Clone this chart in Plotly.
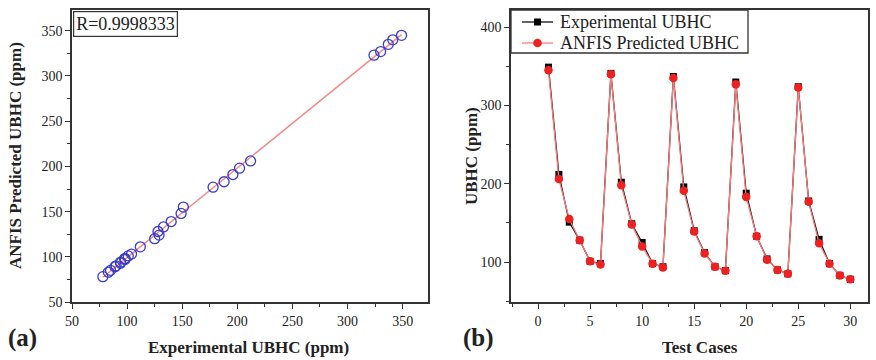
import numpy as np
import plotly.graph_objects as go

# Test case index and measured / predicted unburnt hydrocarbon (ppm)
cases = list(range(1, 31))
experimental = [349, 212, 151, 128, 101, 98, 341, 202, 149, 125, 98, 94,
                337, 196, 140, 112, 94, 89, 330, 188, 133, 104, 90, 85,
                324, 178, 129, 98, 83, 78]
predicted = [345, 206, 155, 128, 101, 97, 340, 198, 148, 120, 98, 93,
             335, 191, 139, 111, 94, 89, 327, 183, 133, 103, 90, 85,
             323, 177, 124, 98, 83, 78]
series_names = ["Experimental UBHC", "ANFIS Predicted UBHC"]
r_label = "R=0.9998333"

serif = "Liberation Serif, Times New Roman, serif"
axis_col = "#333333"
W, H = 876, 360

# least-squares line through the scatter
coef = np.polyfit(experimental, predicted, 1)
fit_x = np.array([min(experimental), max(experimental)])
fit_y = np.polyval(coef, fit_x)

exp_style = dict(line="#111111", marker="#000000")
ann_style = dict(line="#ff7a7a", marker="#ee2020")

fig = go.Figure()

# (a) predicted vs experimental
fig.add_trace(go.Scatter(x=fit_x, y=fit_y, mode="lines",
                         line=dict(color="#f28a8a", width=1.5),
                         showlegend=False, xaxis="x", yaxis="y"))
fig.add_trace(go.Scatter(x=experimental, y=predicted, mode="markers",
                         marker=dict(symbol="circle-open", size=10,
                                     color="#3c3cc8", line=dict(width=1.3)),
                         showlegend=False, xaxis="x", yaxis="y"))

# (b) both series against test case number
fig.add_trace(go.Scatter(x=cases, y=experimental, mode="lines+markers",
                         name=series_names[0], showlegend=False,
                         line=dict(color=exp_style["line"], width=1.3),
                         marker=dict(symbol="square", size=7,
                                     color=exp_style["marker"]),
                         xaxis="x2", yaxis="y2"))
fig.add_trace(go.Scatter(x=cases, y=predicted, mode="lines+markers",
                         name=series_names[1], showlegend=False,
                         line=dict(color=ann_style["line"], width=1.3),
                         marker=dict(symbol="circle", size=8.5,
                                     color=ann_style["marker"]),
                         xaxis="x2", yaxis="y2"))

common = dict(showline=True, linecolor=axis_col, linewidth=1.5, mirror=True,
              ticks="outside", ticklen=5, tickwidth=1.3, tickcolor=axis_col,
              showgrid=False, zeroline=False, automargin=False,
              tickfont=dict(family=serif, size=14, color="#222222"),
              minor=dict(ticks="outside", ticklen=3, tickwidth=1.2,
                         tickcolor=axis_col))

ydom = [1 - 302 / H, 1 - 10 / H]

fig.update_layout(
    width=W, height=H,
    margin=dict(l=0, r=0, t=0, b=0),
    paper_bgcolor="white", plot_bgcolor="white",
    showlegend=False,
    xaxis=dict(domain=[72 / W, 428 / W], range=[50, 373],
               tick0=50, dtick=50, minor_dtick=25, anchor="y", **common),
    yaxis=dict(domain=ydom, range=[50, 373],
               tick0=50, dtick=50, minor_dtick=25, anchor="x", **common),
    xaxis2=dict(domain=[511 / W, 868 / W], range=[-2.6, 31.7],
                tick0=0, dtick=5, minor_dtick=2.5, anchor="y2", **common),
    yaxis2=dict(domain=ydom, range=[49, 422],
                tick0=0, dtick=100, minor_dtick=50, anchor="x2", **common),
)


def px(x, y):
    """pixel position -> paper fraction"""
    return x / W, 1 - y / H


# compact legend box for panel (b)
bx0, by0 = px(511, 10)
bx1, by1 = px(748, 53)
fig.add_shape(type="rect", xref="paper", yref="paper",
              x0=bx0, x1=bx1, y0=by1, y1=by0, layer="above",
              fillcolor="white", line=dict(color=axis_col, width=1.3))
for row, (name, style, sym) in enumerate(
        zip(series_names, (exp_style, ann_style), ("square", "circle"))):
    cy = 22 + row * 21
    lx0, ly = px(522, cy)
    lx1, _ = px(553, cy)
    fig.add_shape(type="line", xref="paper", yref="paper",
                  x0=lx0, x1=lx1, y0=ly, y1=ly, layer="above",
                  line=dict(color=style["line"], width=1.3))
    r = 3.5 if sym == "square" else 4.3
    mx0, my0 = px(537.5 - r, cy - r)
    mx1, my1 = px(537.5 + r, cy + r)
    fig.add_shape(type="rect" if sym == "square" else "circle",
                  xref="paper", yref="paper", layer="above",
                  x0=mx0, x1=mx1, y0=my1, y1=my0,
                  fillcolor=style["marker"], line=dict(width=0))
    tx, ty = px(558, cy)
    fig.add_annotation(xref="paper", yref="paper", showarrow=False,
                       text=name, x=tx, y=ty, xanchor="left",
                       yanchor="middle",
                       font=dict(family=serif, size=18, color="#222222"))

title_font = dict(family=serif, size=17, color="#222222")
label_font = dict(family=serif, size=25, color="#222222")
anns = [
    dict(text="<b>Experimental UBHC (ppm)</b>", xy=(248, 347)),
    dict(text="<b>Test Cases</b>", xy=(700, 347)),
    dict(text="<b>ANFIS Predicted UBHC (ppm)</b>", xy=(15, 156),
         textangle=-90),
    dict(text="<b>UBHC (ppm)</b>", xy=(471, 156), textangle=-90),
]
for a in anns:
    ax, ay = px(*a.pop("xy"))
    fig.add_annotation(xref="paper", yref="paper", showarrow=False,
                       x=ax, y=ay, xanchor="center", yanchor="middle",
                       font=title_font, **a)

for txt, xpos in (("(a)", 22), ("(b)", 478)):
    ax, ay = px(xpos, 338)
    fig.add_annotation(xref="paper", yref="paper", showarrow=False,
                       text=f"<b>{txt}</b>", x=ax, y=ay,
                       xanchor="center", yanchor="middle", font=label_font)

rx, ry = px(73, 11)
fig.add_annotation(xref="paper", yref="paper", showarrow=False,
                   text=r_label, x=rx, y=ry,
                   xanchor="left", yanchor="top",
                   bordercolor=axis_col, borderwidth=1.2, borderpad=2,
                   bgcolor="white",
                   font=dict(family=serif, size=18, color="#222222"))

fig.write_html("out.html")
